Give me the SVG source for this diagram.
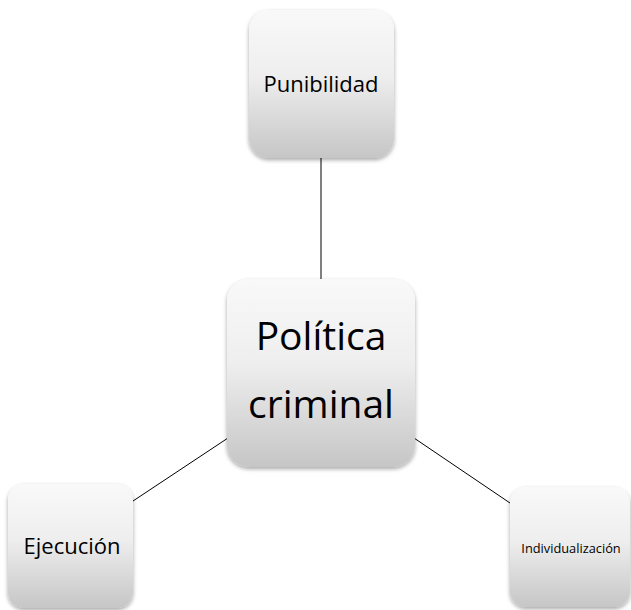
<svg xmlns="http://www.w3.org/2000/svg" width="631" height="610" viewBox="0 0 631 610">
<defs>
<linearGradient id="g" x1="0" y1="0" x2="0" y2="1">
<stop offset="0" stop-color="#f9f9f9"/>
<stop offset="0.45" stop-color="#eeeeee"/>
<stop offset="1" stop-color="#c6c6c6"/>
</linearGradient>
<filter id="sh" x="-20%" y="-20%" width="140%" height="140%">
<feGaussianBlur in="SourceAlpha" stdDeviation="2"/>
<feOffset dx="0" dy="2" result="b"/>
<feComponentTransfer><feFuncA type="linear" slope="0.35"/></feComponentTransfer>
<feMerge><feMergeNode/><feMergeNode in="SourceGraphic"/></feMerge>
</filter>
</defs>
<style>
.box{fill:url(#g);filter:url(#sh);}
.t{font-family:"Open Sans","Liberation Sans",sans-serif;fill:#000;text-anchor:middle;}
.c{stroke:#000;stroke-width:1;fill:none;}
</style>
<rect width="631" height="610" fill="#fff"/>
<g id="connectors">
<line class="c" x1="321" y1="158" x2="321" y2="279"/>
<line class="c" x1="228" y1="438" x2="133" y2="501"/>
<line class="c" x1="414" y1="438" x2="510" y2="503"/>
</g>
<g id="punibilidad">
<rect class="box" x="249" y="10" width="145" height="148" rx="20"/>
<text class="t" x="321" y="92" font-size="22">Punibilidad</text>
</g>
<g id="politica">
<rect class="box" x="227" y="279" width="188" height="188" rx="22"/>
<text class="t" x="321" y="350" font-size="39">Política</text>
<text class="t" x="321" y="418" font-size="39">criminal</text>
</g>
<g id="ejecucion">
<rect class="box" x="8" y="484" width="125" height="124" rx="16"/>
<text class="t" x="72" y="554" font-size="22">Ejecución</text>
</g>
<g id="individualizacion">
<rect class="box" x="510" y="487" width="120" height="120" rx="16"/>
<text class="t" x="571" y="553" font-size="12.8">Individualización</text>
</g>
</svg>
